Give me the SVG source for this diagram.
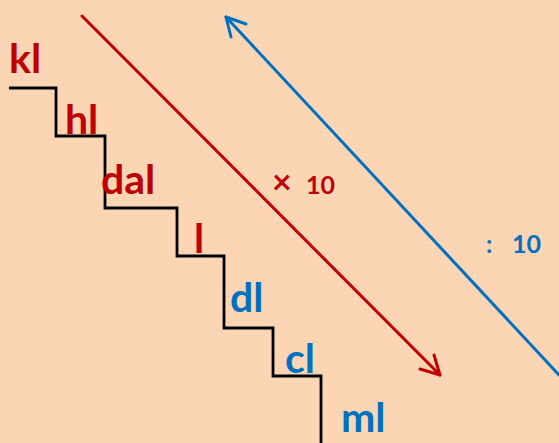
<svg xmlns="http://www.w3.org/2000/svg" width="559" height="443" viewBox="0 0 559 443">
<style>
.lbl{font-family:"Comic Sans MS",Lato,"DejaVu Sans",sans-serif;font-weight:bold;font-size:41px}
.red{fill:#C00000}
.blue{fill:#0070C0}
.small{font-size:25px}
.x{font-size:34px}
</style>
<rect width="559" height="443" fill="#FCD5B4"/>
<g id="stairs">
<polyline points="9,88 56,88 56,136 105,136 105,208 177,208 177,256 224,256 224,328 273,328 273,376 321,376 321,443" fill="none" stroke="#000" stroke-width="2.8"/>
</g>
<g id="labels">
<g id="kl"><text class="lbl red" x="9" y="73">kl</text></g>
<g id="hl"><text class="lbl red" x="65" y="134">hl</text></g>
<g id="dal"><text class="lbl red" x="101" y="194">dal</text></g>
<g id="l"><text class="lbl red" x="194" y="253">l</text></g>
<g id="dl"><text class="lbl blue" x="230" y="312">dl</text></g>
<g id="cl"><text class="lbl blue" x="285" y="373">cl</text></g>
<g id="ml"><text class="lbl blue" x="341" y="432">ml</text></g>
</g>
<g id="connectors" fill="none" stroke-linecap="round" stroke-linejoin="round" stroke-width="3">
<g id="mult" stroke="#C00000">
<line x1="82" y1="16" x2="440" y2="375"/>
<polyline points="434,355 440,375 420,369"/>
</g>
<g id="div" stroke="#0070C0">
<line x1="226" y1="17" x2="559" y2="375"/>
<polyline points="246,24 226,17 231,37"/>
</g>
</g>
<text class="lbl red" x="272" y="194"><tspan class="x">×</tspan><tspan class="small" x="306">10</tspan></text>
<text class="lbl blue small" x="486" y="253">: <tspan x="512">10</tspan></text>
</svg>
